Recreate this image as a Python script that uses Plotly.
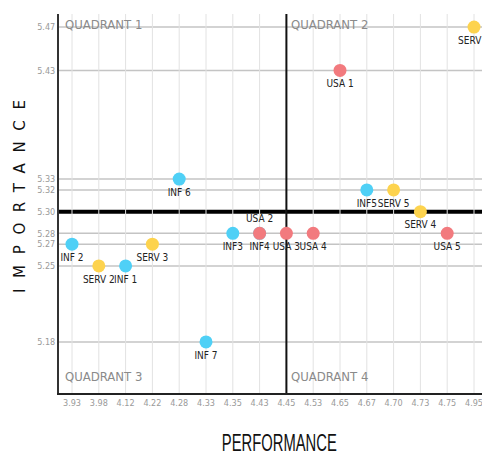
import plotly.graph_objects as go

# ---- data ----
x_ticks = [3.93, 3.98, 4.12, 4.22, 4.28, 4.33, 4.35, 4.43, 4.45, 4.53, 4.65, 4.67, 4.70, 4.73, 4.75, 4.95]
y_ticks = [5.18, 5.25, 5.27, 5.28, 5.30, 5.32, 5.33, 5.43, 5.47]

inf_names = ["INF 1", "INF 2", "INF3", "INF4", "INF5", "INF 6", "INF 7"]
inf_perf = [4.12, 3.93, 4.35, 4.43, 4.67, 4.28, 4.33]
inf_imp = [5.25, 5.27, 5.28, 5.28, 5.32, 5.33, 5.18]

serv_names = ["SERV 1", "SERV 2", "SERV 3", "SERV 4", "SERV 5"]
serv_perf = [4.95, 3.98, 4.22, 4.73, 4.70]
serv_imp = [5.47, 5.25, 5.27, 5.30, 5.32]

usa_names = ["USA 1", "USA 2", "USA 3", "USA 4", "USA 5"]
usa_perf = [4.65, 4.43, 4.45, 4.53, 4.75]
usa_imp = [5.43, 5.28, 5.28, 5.28, 5.28]

perf_cut = 4.45
imp_cut = 5.30
quadrant_labels = ["QUADRANT 1", "QUADRANT 2", "QUADRANT 3", "QUADRANT 4"]
x_title = "PERFORMANCE"
y_title = "IMPORTANCE"

# ---- styling ----
NARROW = "DejaVu Sans Condensed, Liberation Sans Narrow, Arial Narrow, sans-serif"
W, H = 482, 457
ML, MR, MT, MB = 59, 0, 14, 64
PW, PH = W - ML - MR, H - MT - MB

fmt = lambda v: f"{v:.2f}"
x_cats = [fmt(v) for v in x_ticks]

fig = go.Figure()


def add_series(names, perf, imp, color, positions=None):
    fig.add_trace(go.Scatter(
        x=[fmt(v) for v in perf], y=imp, mode="markers+text",
        text=names,
        textposition=positions or ["bottom center"] * len(names),
        textfont=dict(family=NARROW, size=10, color="#222"),
        marker=dict(size=13, color=color, line=dict(width=0)),
        showlegend=False, hoverinfo="text+x+y",
    ))


add_series(inf_names, inf_perf, inf_imp, "#4fd0f6")
add_series(serv_names, serv_perf, serv_imp, "#fdd34e")
add_series(usa_names, usa_perf, usa_imp, "#f27a7e",
           positions=["bottom center", "top center", "bottom center", "bottom center", "bottom center"])

cut_idx = x_cats.index(fmt(perf_cut))

# grid lines drawn as shapes beneath the markers, so the divider lines sit cleanly
for v in y_ticks:
    fig.add_shape(type="line", xref="paper", yref="y", x0=0, x1=1, y0=v, y1=v,
                  line=dict(color="#c4c4c4", width=1.5), layer="below")
fig.add_shape(type="line", xref="paper", yref="y", x0=0, x1=1, y0=imp_cut, y1=imp_cut,
              line=dict(color="#000", width=4), layer="below")
for i in range(len(x_cats)):
    fig.add_shape(type="line", xref="x", yref="paper", x0=i, x1=i, y0=0, y1=1,
                  line=dict(color="#e2e2e2", width=1), layer="below")
fig.add_shape(type="line", xref="x", yref="paper", x0=cut_idx, x1=cut_idx, y0=0, y1=1,
              line=dict(color="#111", width=2), layer="below")

qfont = dict(family=NARROW, size=13, color="#8a8a8a")
fig.add_annotation(text=quadrant_labels[0], xref="paper", yref="paper", x=0, y=1,
                   xanchor="left", yanchor="top", xshift=4, yshift=-1, showarrow=False, font=qfont)
fig.add_annotation(text=quadrant_labels[1], xref="x", yref="paper", x=cut_idx, y=1,
                   xanchor="left", yanchor="top", xshift=3, yshift=-1, showarrow=False, font=qfont)
fig.add_annotation(text=quadrant_labels[2], xref="paper", yref="paper", x=0, y=0,
                   xanchor="left", yanchor="bottom", xshift=4, yshift=7, showarrow=False, font=qfont)
fig.add_annotation(text=quadrant_labels[3], xref="x", yref="paper", x=cut_idx, y=0,
                   xanchor="left", yanchor="bottom", xshift=3, yshift=7, showarrow=False, font=qfont)

# axis titles
fig.add_annotation(text=x_title, xref="paper", yref="paper",
                   x=(279.5 - ML) / PW, y=(H - MB - 442) / PH,
                   xanchor="center", yanchor="middle", showarrow=False,
                   font=dict(family="Liberation Sans, Arial, sans-serif", size=24, color="#111"))
fig.add_annotation(text=y_title, xref="paper", yref="paper",
                   x=(20.5 - ML) / PW, y=(H - MB - 196.5) / PH, textangle=-90,
                   xanchor="center", yanchor="middle", showarrow=False,
                   font=dict(family="DejaVu Sans, sans-serif", size=15, color="#111"))

fig.update_xaxes(
    type="category", categoryorder="array", categoryarray=x_cats,
    range=[(ML - 72) / 26.8, (W - 72) / 26.8],
    showgrid=False,
    showline=True, linecolor="#222", linewidth=2, zeroline=False,
    ticks="", tickfont=dict(family=NARROW, size=9, color="#9a9a9a"),
    fixedrange=True,
)
fig.update_yaxes(
    range=[5.133, 5.482],
    tickmode="array", tickvals=y_ticks, ticktext=[fmt(v) for v in y_ticks],
    showgrid=False,
    showline=True, linecolor="#333", linewidth=2, zeroline=False,
    ticks="", tickfont=dict(family=NARROW, size=9, color="#9a9a9a"),
    fixedrange=True,
)
fig.update_layout(
    width=W, height=H,
    margin=dict(l=ML, r=MR, t=MT, b=MB, autoexpand=False),
    paper_bgcolor="white", plot_bgcolor="white",
    showlegend=False,
)

post = """
document.body.style.margin = '0';
document.body.style.overflow = 'hidden';
var gd = document.getElementById('{plot_id}');
gd.querySelectorAll('text.annotation-text').forEach(function(t){
  if (t.textContent === 'IMPORTANCE') { t.setAttribute('textLength', '193'); t.setAttribute('lengthAdjust', 'spacing'); }
  if (t.textContent === 'PERFORMANCE') { t.setAttribute('textLength', '115'); t.setAttribute('lengthAdjust', 'spacingAndGlyphs'); }
});
"""

fig.write_html("out.html", post_script=post, config={"displayModeBar": False})
